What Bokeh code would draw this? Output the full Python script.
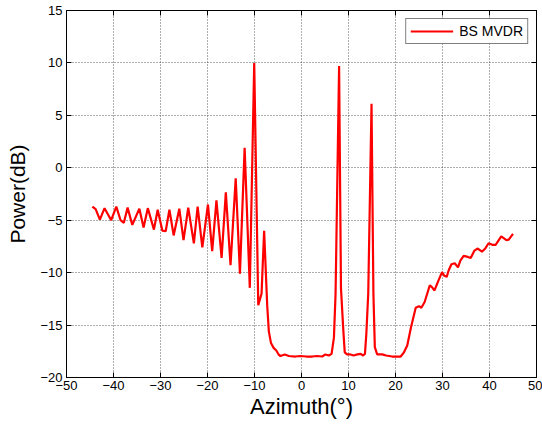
from bokeh.plotting import figure
from bokeh.models import (Range1d, FixedTicker, LinearAxis, Legend, LegendItem,
                          CustomLabelingPolicy)
from bokeh.embed import file_html
from bokeh.resources import INLINE

azimuth = [
    -44.5, -43.8, -42.9, -41.9, -40.5, -39.4, -38.5, -37.8, -37.0, -36.0,
    -34.5, -33.6, -32.7, -31.4, -30.6, -29.6, -28.9, -28.1, -27.2, -26.0,
    -25.1, -24.1, -22.9, -22.1, -21.1, -19.9, -19.0, -18.1, -17.0, -16.1,
    -15.1, -14.0, -13.1, -12.1, -11.0, -10.06, -9.2, -8.5, -7.95, -7.3,
    -6.95, -6.5, -5.9, -5.4, -4.8, -4.5, -3.55, -2.7, -1.3, -0.2,
    1.0, 2.3, 3.3, 4.4, 5.1, 5.8, 6.4, 6.9, 7.25, 8.0,
    8.4, 8.9, 9.2, 9.7, 10.4, 11.1, 11.9, 12.6, 13.1, 13.5,
    13.8, 14.2, 14.9, 15.3, 15.6, 16.1, 17.2, 18.0, 19.3, 21.1,
    21.8, 22.5, 23.3, 24.3, 25.0, 25.5, 26.2, 27.3, 27.8, 28.3,
    29.0, 29.9, 30.4, 30.9, 31.3, 31.9, 32.6, 33.3, 33.8, 34.5,
    35.4, 36.0, 36.8, 37.5, 38.4, 39.1, 39.8, 40.6, 41.3, 42.5,
    43.6, 44.1, 45.0,
]
power_db = [
    -3.7, -3.95, -4.95, -3.85, -5.0, -3.7, -5.0, -5.25, -3.8, -5.45,
    -3.9, -5.7, -3.85, -5.9, -4.0, -6.0, -6.05, -4.0, -6.45, -3.9,
    -6.9, -3.8, -7.2, -3.7, -7.6, -3.5, -7.95, -3.1, -8.6, -2.35,
    -9.3, -1.0, -10.1, 1.9, -11.45, 10.0, -13.1, -12.0, -6.0, -13.1,
    -15.6, -16.7, -17.2, -17.4, -17.85, -17.95, -17.8, -17.95, -18.0, -17.95,
    -18.0, -18.0, -17.95, -18.0, -17.8, -17.9, -17.75, -16.2, -12.0, 9.7,
    -11.5, -15.5, -17.6, -17.8, -17.8, -17.9, -17.8, -17.75, -17.9, -17.75,
    -15.8, -12.0, 6.1, -12.0, -17.1, -17.8, -17.8, -17.9, -18.0, -18.0,
    -17.6, -16.95, -15.2, -13.35, -13.2, -13.35, -12.8, -11.2, -11.4, -11.7,
    -10.9, -9.95, -10.3, -10.4, -9.8, -9.2, -9.1, -9.5, -8.85, -8.4,
    -8.5, -8.6, -7.9, -7.7, -8.0, -7.7, -7.2, -7.35, -7.35, -6.55,
    -6.9, -6.85, -6.3,
]
x_ticks = [-50, -40, -30, -20, -10, 0, 10, 20, 30, 40, 50]
y_ticks = [-20, -15, -10, -5, 0, 5, 10, 15]
series_name = "BS MVDR"

FONT = "Liberation Sans"

p = figure(width=542, height=430, output_backend="svg", toolbar_location=None,
           x_range=Range1d(-50, 50), y_range=Range1d(-20, 15),
           min_border_left=66, min_border_right=6, min_border_top=10,
           min_border_bottom=53)
p.background_fill_color = "white"
p.border_fill_color = "white"
p.outline_line_color = "black"
p.outline_line_width = 1

r = p.line(azimuth, power_db, line_color="#ff0000", line_width=2.2)

for ax, ticks in ((p.xaxis[0], x_ticks), (p.yaxis[0], y_ticks)):
    ax.ticker = FixedTicker(ticks=ticks)
    ax.major_tick_in = 5
    ax.major_tick_out = 0
    ax.minor_tick_line_color = None
    ax.axis_line_color = "black"
    ax.major_tick_line_color = "black"
    ax.major_label_text_font = FONT
    ax.major_label_text_font_size = "13px"
    ax.major_label_text_color = "black"
    ax.axis_label_text_font = FONT
    ax.axis_label_text_font_style = "normal"
    ax.axis_label_text_color = "black"

p.xaxis.axis_label = "Azimuth(°)"
p.yaxis.axis_label = "Power(dB)"
p.xaxis.axis_label_text_font_size = "22px"
p.yaxis.axis_label_text_font_size = "21px"
p.xaxis.major_label_standoff = 3
p.yaxis.major_label_standoff = 4
p.xaxis.axis_label_standoff = 1
p.yaxis.axis_label_standoff = 8

no_labels = CustomLabelingPolicy(code="return new indices.constructor(indices.size, 0)")
for side, ticks in (("above", x_ticks), ("right", y_ticks)):
    ax = LinearAxis(ticker=FixedTicker(ticks=ticks))
    ax.major_tick_in = 5
    ax.major_tick_out = 0
    ax.minor_tick_line_color = None
    ax.major_label_policy = no_labels
    ax.major_label_text_font_size = "1px"
    ax.major_label_standoff = 0
    ax.axis_line_color = "black"
    p.add_layout(ax, side)

p.xgrid[0].ticker = FixedTicker(ticks=x_ticks)
p.ygrid[0].ticker = FixedTicker(ticks=y_ticks)
for g in (p.xgrid[0], p.ygrid[0]):
    g.grid_line_color = "#333333"
    g.grid_line_dash = "1 2"
    g.grid_line_alpha = 0.8

legend = Legend(items=[LegendItem(label=series_name, renderers=[r])],
                location="top_right")
legend.margin = 8
legend.padding = 4
legend.spacing = 0
legend.glyph_width = 43
legend.glyph_height = 14
legend.label_height = 14
legend.label_standoff = 6
legend.label_text_font = FONT
legend.label_text_font_size = "14px"
legend.label_text_color = "black"
legend.border_line_color = "black"
legend.border_line_width = 1
legend.background_fill_alpha = 1
p.add_layout(legend)

open("out.html", "w").write(file_html(p, INLINE))
